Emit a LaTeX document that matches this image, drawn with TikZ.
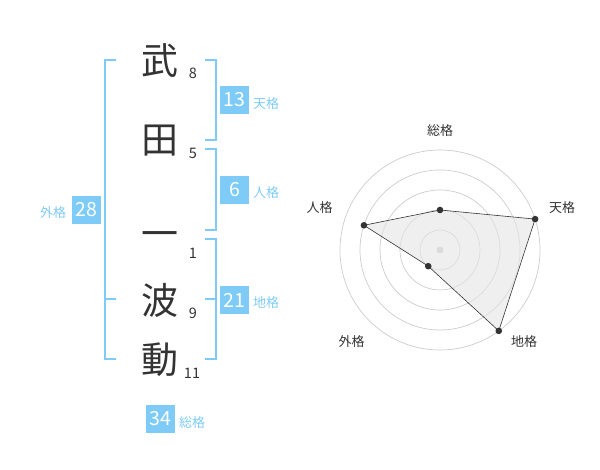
\documentclass[tikz,border=0pt]{standalone}
\usepackage{fontspec}
\setmainfont{Noto Sans CJK JP}
\definecolor{kakublue}{HTML}{7FCBF7}
\definecolor{inkgray}{HTML}{333333}

\begin{document}
\begin{tikzpicture}[x=1pt,y=-1pt,
    kanji/.style={text=inkgray,font=\fontsize{37}{37}\selectfont,inner sep=0pt},
    strokes/.style={text=inkgray,font=\fontsize{14.5}{14.5}\selectfont,inner sep=0pt},
    numbox/.style={fill=kakublue,text=white,minimum width=29pt,minimum height=28pt,
      inner sep=0pt,font=\fontsize{19.5}{19.5}\selectfont},
    kaku/.style={text=kakublue,font=\fontsize{13}{13}\selectfont,inner sep=0pt},
    axis/.style={text=inkgray,font=\fontsize{13}{13}\selectfont,inner sep=0pt},
    bracket/.style={draw=kakublue,line width=1.8pt},
    ring/.style={draw=black!20,line width=0.7pt}]
  \useasboundingbox (0,0) rectangle (600,470);

  % name, one character per row
  \node[kanji] (c1) at (160,61) {武};
  \node[kanji] (c2) at (160,141) {田};
  \node[kanji] (c3) at (160,240) {一};
  \node[kanji] (c4) at (160,300) {波};
  \node[kanji] (c5) at (160,360) {動};
  \node[strokes] (s1) at (193,73) {8};
  \node[strokes] (s2) at (193,153) {5};
  \node[strokes] (s3) at (193,253) {1};
  \node[strokes] (s4) at (193,313) {9};
  \node[strokes] (s5) at (192,373) {11};

  % brackets
  \draw[bracket] (116,60) -- (105,60) -- (105,359) -- (116,359);
  \draw[bracket] (105,299) -- (116,299);
  \foreach \top/\bot in {60/140,149/230,239/359}
    \draw[bracket] (205,\top) -- (216,\top) -- (216,\bot) -- (205,\bot);
  \draw[bracket] (205,299) -- (216,299);

  % totals
  \node[numbox] (ten) at (234.5,100) {13};
  \node[numbox] (jin) at (234.5,190) {6};
  \node[numbox] (chi) at (234.5,300) {21};
  \node[numbox] (gai) at (86,210) {28};
  \node[numbox] (sou) at (160.5,419) {34};
  \node[kaku] (tenl) at (266,104) {天格};
  \node[kaku] (jinl) at (266,193) {人格};
  \node[kaku] (chil) at (266,303) {地格};
  \node[kaku] (gail) at (53,213) {外格};
  \node[kaku] (soul) at (192,423) {総格};

  % radar chart
  \begin{scope}[shift={(440,250)},yscale=-1]
    \foreach \r in {20,40,60,80,100}
      \draw[ring] (0,0) circle (\r pt);
    \fill[black!20] (0,0) circle (3.5pt);
    \coordinate (p1) at (90:40);
    \coordinate (p2) at (18:100);
    \coordinate (p3) at (-54:100);
    \coordinate (p4) at (-126:20);
    \coordinate (p5) at (162:80);
    \draw[fill=black!10,fill opacity=0.6,draw=inkgray,line width=0.6pt]
      (p1) -- (p2) -- (p3) -- (p4) -- (p5) -- cycle;
    \foreach \p in {p1,p2,p3,p4,p5}
      \fill[inkgray] (\p) circle (3.3pt);
    \node[axis] (a1) at (0,119) {総格};
    \node[axis] (a2) at (122,42) {天格};
    \node[axis] (a3) at (84,-92) {地格};
    \node[axis] (a4) at (-88.5,-92) {外格};
    \node[axis] (a5) at (-120.5,42) {人格};
  \end{scope}
\end{tikzpicture}
\end{document}
